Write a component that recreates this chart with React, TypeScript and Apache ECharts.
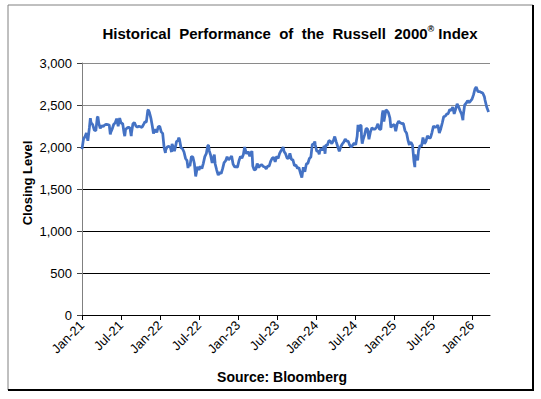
import React, { useEffect, useRef } from "react";
import * as echarts from "echarts";

const dates: string[] = [
  "2021-01-01","2021-01-08","2021-01-15","2021-01-22","2021-01-29","2021-02-05","2021-02-09","2021-02-12","2021-02-19","2021-02-26",
  "2021-03-05","2021-03-12","2021-03-15","2021-03-19","2021-03-26","2021-04-02","2021-04-09","2021-04-16","2021-04-23","2021-04-30",
  "2021-05-07","2021-05-12","2021-05-14","2021-05-21","2021-05-28","2021-06-04","2021-06-11","2021-06-18","2021-06-25","2021-07-02",
  "2021-07-09","2021-07-16","2021-07-19","2021-07-23","2021-07-30","2021-08-06","2021-08-13","2021-08-19","2021-08-20","2021-08-27",
  "2021-09-03","2021-09-10","2021-09-17","2021-09-24","2021-10-01","2021-10-08","2021-10-15","2021-10-22","2021-10-29","2021-11-05",
  "2021-11-08","2021-11-12","2021-11-19","2021-11-26","2021-12-01","2021-12-03","2021-12-10","2021-12-17","2021-12-24","2021-12-31",
  "2022-01-07","2022-01-14","2022-01-21","2022-01-27","2022-01-28","2022-02-04","2022-02-11","2022-02-18","2022-02-23","2022-02-25",
  "2022-03-04","2022-03-08","2022-03-11","2022-03-18","2022-03-25","2022-03-29","2022-04-01","2022-04-08","2022-04-15","2022-04-22",
  "2022-04-29","2022-05-06","2022-05-11","2022-05-13","2022-05-20","2022-05-27","2022-06-03","2022-06-10","2022-06-16","2022-06-17",
  "2022-06-24","2022-07-01","2022-07-08","2022-07-15","2022-07-22","2022-07-29","2022-08-05","2022-08-12","2022-08-16","2022-08-19",
  "2022-08-26","2022-09-02","2022-09-09","2022-09-12","2022-09-16","2022-09-23","2022-09-30","2022-10-07","2022-10-14","2022-10-21",
  "2022-10-28","2022-11-04","2022-11-11","2022-11-18","2022-11-25","2022-12-02","2022-12-09","2022-12-16","2022-12-23","2022-12-30",
  "2023-01-06","2023-01-13","2023-01-20","2023-01-27","2023-02-02","2023-02-03","2023-02-10","2023-02-17","2023-02-24","2023-03-03",
  "2023-03-06","2023-03-10","2023-03-17","2023-03-24","2023-03-31","2023-04-07","2023-04-14","2023-04-21","2023-04-28","2023-05-05",
  "2023-05-12","2023-05-19","2023-05-26","2023-06-02","2023-06-09","2023-06-16","2023-06-23","2023-06-30","2023-07-07","2023-07-14",
  "2023-07-21","2023-07-28","2023-07-31","2023-08-04","2023-08-11","2023-08-18","2023-08-25","2023-09-01","2023-09-08","2023-09-15",
  "2023-09-22","2023-09-29","2023-10-06","2023-10-13","2023-10-20","2023-10-27","2023-11-03","2023-11-10","2023-11-17","2023-11-24",
  "2023-12-01","2023-12-08","2023-12-15","2023-12-22","2023-12-27","2023-12-29",
  "2024-01-05","2024-01-12","2024-01-17","2024-01-19","2024-01-26","2024-02-02","2024-02-09","2024-02-13","2024-02-16","2024-02-23",
  "2024-03-01","2024-03-08","2024-03-15","2024-03-22","2024-03-29","2024-04-05","2024-04-12","2024-04-19","2024-04-26","2024-05-03",
  "2024-05-10","2024-05-17","2024-05-24","2024-05-31","2024-06-07","2024-06-14","2024-06-21","2024-06-28","2024-07-05","2024-07-12",
  "2024-07-16","2024-07-19","2024-07-26","2024-07-31","2024-08-02","2024-08-05","2024-08-09","2024-08-16","2024-08-23","2024-08-30",
  "2024-09-06","2024-09-13","2024-09-20","2024-09-27","2024-10-04","2024-10-11","2024-10-18","2024-10-25","2024-11-01","2024-11-08",
  "2024-11-11","2024-11-15","2024-11-22","2024-11-25","2024-11-29","2024-12-06","2024-12-13","2024-12-18","2024-12-20","2024-12-27",
  "2025-01-03","2025-01-10","2025-01-17","2025-01-24","2025-01-31","2025-02-07","2025-02-14","2025-02-21","2025-02-28","2025-03-07",
  "2025-03-13","2025-03-14","2025-03-21","2025-03-28","2025-04-04","2025-04-08","2025-04-09","2025-04-11","2025-04-17","2025-04-21",
  "2025-04-25","2025-05-02","2025-05-09","2025-05-16","2025-05-23","2025-05-30","2025-06-06","2025-06-13","2025-06-20","2025-06-27",
  "2025-07-04","2025-07-11","2025-07-18","2025-07-25","2025-08-01","2025-08-08","2025-08-15","2025-08-22","2025-08-29","2025-09-05",
  "2025-09-12","2025-09-19","2025-09-26","2025-10-03","2025-10-10","2025-10-17","2025-10-24","2025-10-31","2025-11-07","2025-11-14",
  "2025-11-20","2025-11-21","2025-11-28","2025-12-05","2025-12-12","2025-12-19","2025-12-26",
  "2026-01-02","2026-01-09","2026-01-16","2026-01-22","2026-01-30","2026-02-06","2026-02-13","2026-02-20","2026-02-27","2026-03-02",
  "2026-03-10","2026-03-19",
];

const closes: number[] = [
  1975,2092,2123,2168,2074,2233,2343,2289,2266,2201,
  2192,2352,2360,2285,2221,2254,2243,2263,2270,2266,
  2262,2150,2172,2214,2268,2287,2338,2248,2344,2280,
  2280,2163,2130,2209,2226,2236,2224,2130,2167,2277,
  2292,2249,2237,2248,2241,2233,2265,2300,2297,2437,
  2442,2415,2344,2245,2160,2162,2211,2173,2244,2245,
  2180,2162,1988,1931,1963,2000,2009,1994,1940,2037,
  1990,1950,1979,2064,2078,2110,2092,1993,1979,1940,
  1864,1839,1750,1792,1773,1887,1881,1800,1649,1665,
  1765,1728,1769,1744,1806,1885,1921,2016,2021,1958,
  1899,1809,1882,1910,1798,1726,1665,1699,1682,1742,
  1814,1835,1883,1845,1869,1893,1796,1763,1765,1761,
  1836,1887,1867,1911,2001,1985,1919,1946,1890,1940,
  1950,1773,1725,1734,1802,1757,1780,1791,1768,1762,
  1741,1773,1773,1830,1864,1878,1822,1889,1865,1923,
  1957,1985,1999,1946,1921,1870,1862,1924,1852,1847,
  1777,1785,1745,1756,1691,1636,1760,1705,1797,1807,
  1863,1880,2035,2031,2066,2027,
  1951,1950,1913,1946,1985,1961,2012,1920,2023,2021,
  2076,2069,2039,2072,2125,2062,2003,1947,2003,2036,
  2059,2095,2069,2070,2022,1998,2022,2047,2026,2127,
  2263,2184,2260,2254,2109,2040,2084,2141,2218,2218,
  2092,2182,2228,2212,2213,2234,2276,2212,2210,2399,
  2435,2303,2406,2442,2434,2409,2346,2231,2241,2260,
  2268,2189,2275,2307,2288,2279,2280,2195,2163,2075,
  2023,2045,2056,2023,1827,1760,1913,1860,1880,1840,
  1957,2020,2009,2113,2039,2066,2132,2109,2110,2172,
  2249,2235,2240,2261,2166,2218,2286,2362,2366,2391,
  2397,2448,2434,2476,2394,2452,2513,2479,2432,2390,
  2320,2369,2500,2521,2551,2529,2548,
  2570,2620,2690,2714,2660,2660,2650,2643,2600,2560,
  2476,2417,
];

const yTickValues: number[] = [0, 500, 1000, 1500, 2000, 2500, 3000];
const xTickMonths: number[] = [0, 6, 12, 18, 24, 30, 36, 42, 48, 54, 60];
const monthNames: string[] = ["Jan","Feb","Mar","Apr","May","Jun","Jul","Aug","Sep","Oct","Nov","Dec"];

const FONT = "'Liberation Sans', Arial, Helvetica, sans-serif";

function monthIndex(s: string): number {
  const [y, m, d] = s.split("-").map(Number);
  const dim = new Date(y, m, 0).getDate();
  return (y - 2021) * 12 + (m - 1) + (d - 1) / dim;
}

function monthLabel(v: number): string {
  const idx = Math.round(v);
  const year = 2021 + Math.floor(idx / 12);
  return monthNames[idx % 12] + "-" + String(year).slice(2);
}

export default function App() {
  const ref = useRef<HTMLDivElement>(null);

  useEffect(() => {
    if (!ref.current) return;
    const chart = echarts.init(ref.current, null, { renderer: "svg" });
    const seriesData = dates.map((d, i) => [monthIndex(d), closes[i]]);

    chart.setOption({
      animation: false,
      backgroundColor: "#ffffff",
      grid: { left: 82, right: 51, top: 63, bottom: 84 },
      xAxis: {
        type: "value",
        min: 0,
        max: 62.8,
        interval: 6,
        axisLine: { show: true, lineStyle: { color: "#000", width: 1 } },
        axisTick: { show: true, length: 5, customValues: xTickMonths, lineStyle: { color: "#000" } },
        axisLabel: {
          customValues: xTickMonths,
          rotate: 45,
          margin: 8,
          fontSize: 13,
          fontFamily: FONT,
          color: "#000",
          formatter: (v: number) => monthLabel(v),
        },
        splitLine: { show: false },
      },
      yAxis: {
        type: "value",
        min: yTickValues[0],
        max: yTickValues[yTickValues.length - 1],
        interval: 500,
        axisLine: { show: true, lineStyle: { color: "#808080", width: 1 } },
        axisTick: { show: true, length: 5, lineStyle: { color: "#404040" } },
        axisLabel: {
          margin: 10,
          fontSize: 13,
          fontFamily: FONT,
          color: "#000",
          formatter: (v: number) => v.toLocaleString("en-US"),
        },
        splitLine: {
          show: true,
          lineStyle: { color: ["#000", "#000", "#000", "#000", "#000", "#8a8a8a", "#8a8a8a"], width: 1 },
        },
      },
      series: [
        {
          type: "line",
          data: seriesData,
          showSymbol: false,
          symbol: "none",
          lineStyle: { color: "#4472C4", width: 2.75 },
          z: 5,
        },
      ],
      graphic: [
        { type: "line", shape: { x1: 8, y1: 5, x2: 533, y2: 5 }, style: { stroke: "#808080", lineWidth: 1 } },
        { type: "line", shape: { x1: 8, y1: 5, x2: 8, y2: 390 }, style: { stroke: "#808080", lineWidth: 1 } },
        { type: "line", shape: { x1: 533, y1: 5, x2: 533, y2: 391 }, style: { stroke: "#000", lineWidth: 2 } },
        { type: "line", shape: { x1: 8, y1: 390, x2: 534, y2: 390 }, style: { stroke: "#000", lineWidth: 2 } },
        {
          type: "text",
          x: 290,
          y: 33,
          style: {
            text: "{t|Historical  Performance  of  the  Russell  2000}{s|®}{t| Index}",
            align: "center",
            verticalAlign: "middle",
            rich: {
              t: { fontSize: 15, fontWeight: "bold", fontFamily: FONT, fill: "#000" },
              s: { fontSize: 9, fontWeight: "bold", fontFamily: FONT, fill: "#000", padding: [0, 0, 8, 0] },
            },
          },
        },
        {
          type: "text",
          x: 27,
          y: 183,
          rotation: Math.PI / 2,
          style: {
            text: "Closing Level",
            align: "center",
            verticalAlign: "middle",
            fontSize: 13,
            fontWeight: "bold",
            fontFamily: FONT,
            fill: "#000",
          },
        },
        {
          type: "text",
          x: 282,
          y: 377,
          style: {
            text: "Source: Bloomberg",
            align: "center",
            verticalAlign: "middle",
            fontSize: 14,
            fontWeight: "bold",
            fontFamily: FONT,
            fill: "#000",
          },
        },
      ],
    });

    return () => chart.dispose();
  }, []);

  return (
    <div
      ref={ref}
      style={{ position: "fixed", left: 0, top: 0, width: 541, height: 399, background: "#fff" }}
    />
  );
}
